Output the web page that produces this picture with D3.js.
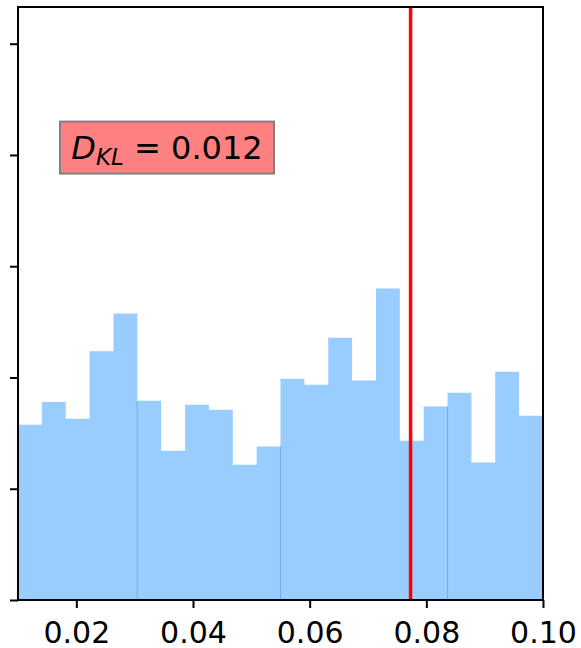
<!DOCTYPE html>
<html>
<head>
<meta charset="utf-8">
<script src="https://cdn.jsdelivr.net/npm/d3@7"></script>
<style>
  body { margin: 0; background: #fff; }
  text { font-family: "DejaVu Sans", sans-serif; }
</style>
</head>
<body>
<svg id="chart" width="581" height="648"></svg>
<script>
// histogram bins: [0.01, 0.10] split into 22 equal bins
const binStart = 0.01;
const binEnd = 0.10;
const binCount = 22;
const binHeights = [1.575, 1.78, 1.63, 2.235, 2.574, 1.79, 1.341, 1.755, 1.71, 1.215, 1.38,
  1.989, 1.935, 2.358, 1.974, 2.8, 1.431, 1.74, 1.863, 1.236, 2.052, 1.656];
// bin indices where a new batch of bars starts (faint seam visible)
const seamBins = [5, 11, 18];
const xTicks = [0.02, 0.04, 0.06, 0.08, 0.10];
const yTicks = [0, 1, 2, 3, 4, 5];
const yMax = 5.33;
const markerX = 0.0773;
const klLabel = { sub: 'KL', value: '0.012' };

const margin = { top: 7, right: 38, bottom: 48, left: 18 };
const width = 581 - margin.left - margin.right;
const height = 648 - margin.top - margin.bottom;

const svg = d3.select('#chart');
const g = svg.append('g').attr('transform', `translate(${margin.left},${margin.top})`);

const x = d3.scaleLinear().domain([binStart, binEnd]).range([0, width]);
const y = d3.scaleLinear().domain([0, yMax]).range([height, 0]);
const binWidth = (binEnd - binStart) / binCount;

const bins = binHeights.map((h, i) => ({ x0: binStart + i * binWidth, x1: binStart + (i + 1) * binWidth, h }));

// split bins into batches, each drawn as one stepped area (no inner edges)
const cuts = [0, ...seamBins, binCount];
const batches = d3.pairs(cuts).map(([a, b]) => {
  const pts = bins.slice(a, b).map(d => ({ x: d.x0, h: d.h }));
  pts.push({ x: bins[b - 1].x1, h: bins[b - 1].h });
  return pts;
});

const area = d3.area()
  .curve(d3.curveStepAfter)
  .x(d => x(d.x))
  .y0(y(0))
  .y1(d => y(d.h));

g.selectAll('path.batch')
  .data(batches)
  .enter()
  .append('path')
  .attr('class', 'batch')
  .attr('d', area)
  .attr('fill', '#99ccff');

g.selectAll('line.seam')
  .data(seamBins)
  .enter()
  .append('line')
  .attr('class', 'seam')
  .attr('x1', i => x(bins[i].x0))
  .attr('x2', i => x(bins[i].x0))
  .attr('y1', y(0))
  .attr('y2', i => y(Math.min(bins[i - 1].h, bins[i].h)))
  .attr('stroke', '#6ab0f5')
  .attr('stroke-width', 1);

// red marker line
g.append('line')
  .attr('x1', x(markerX))
  .attr('x2', x(markerX))
  .attr('y1', 0)
  .attr('y2', height)
  .attr('stroke', '#ff0000')
  .attr('stroke-width', 3.5);

// axes
const xAxis = g.append('g')
  .attr('transform', `translate(0,${height})`)
  .call(d3.axisBottom(x).tickValues(xTicks).tickFormat(d3.format('.2f')).tickSize(8).tickSizeOuter(0));
xAxis.select('.domain').remove();
xAxis.selectAll('.tick line').attr('stroke', '#000').attr('stroke-width', 2);
xAxis.selectAll('.tick text').attr('font-size', 30).attr('fill', '#000').attr('dy', '1.05em');

const yAxis = g.append('g')
  .call(d3.axisLeft(y).tickValues(yTicks).tickFormat('').tickSize(8).tickSizeOuter(0));
yAxis.select('.domain').remove();
yAxis.selectAll('.tick line').attr('stroke', '#000').attr('stroke-width', 2);

// frame
g.append('rect')
  .attr('x', 0).attr('y', 0)
  .attr('width', width).attr('height', height)
  .attr('fill', 'none')
  .attr('stroke', '#000')
  .attr('stroke-width', 2);

// KL annotation box
const box = g.append('g').attr('transform', `translate(${x(0.0172)},${y(4.3)})`);
box.append('rect')
  .attr('x', 0).attr('y', 0)
  .attr('width', 214).attr('height', 52)
  .attr('fill', '#ff8080')
  .attr('stroke', '#808080')
  .attr('stroke-width', 2);
const t = box.append('text')
  .attr('x', 107).attr('y', 37)
  .attr('text-anchor', 'middle')
  .attr('font-size', 32)
  .attr('fill', '#000');
t.append('tspan').attr('font-style', 'italic').text('D');
t.append('tspan').attr('font-style', 'italic').attr('font-size', 23).attr('dy', 6).text(klLabel.sub);
t.append('tspan').attr('dy', -6).text(` = ${klLabel.value}`);
</script>
</body>
</html>
